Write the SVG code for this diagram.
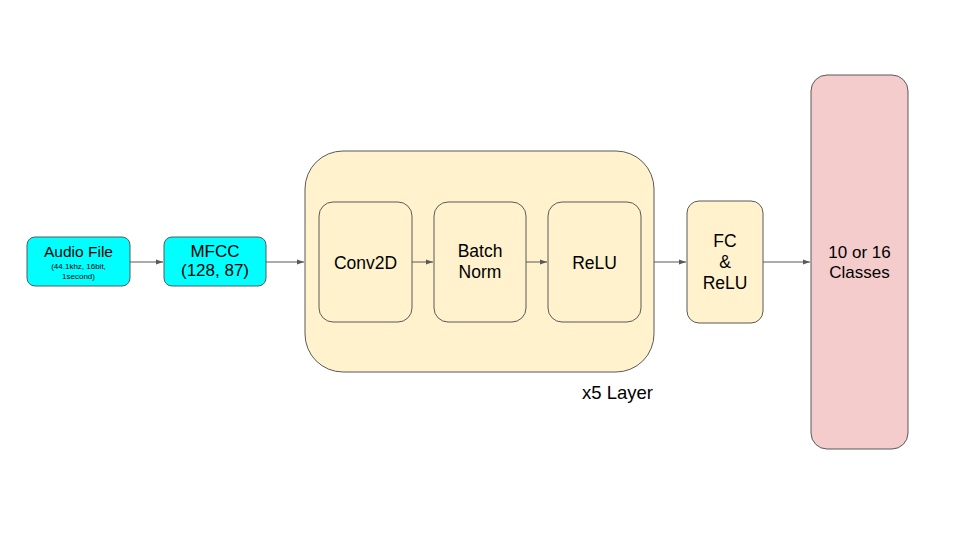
<svg xmlns="http://www.w3.org/2000/svg" width="960" height="540" viewBox="0 0 960 540">
<defs>
<marker id="ah" markerWidth="8" markerHeight="6" refX="7" refY="3" orient="auto" markerUnits="userSpaceOnUse">
<path d="M0,0.5 L7,3 L0,5.5 Z" fill="#595959"/>
</marker>
<style>
.box{stroke:#595959;stroke-width:1}
.cyan{fill:#00ffff}
.tan{fill:#fff2cc}
.pink{fill:#f4cccc}
text{font-family:"Liberation Sans",Arial,sans-serif;fill:#000;text-anchor:middle}
.c{fill:none;stroke:#595959;stroke-width:1;marker-end:url(#ah)}
</style>
</defs>
<rect width="960" height="540" fill="#fff"/>
<g id="audio">
<rect class="box cyan" x="27" y="237" width="103" height="49" rx="8"/>
<text x="78.5" y="257" font-size="15.5">Audio File</text>
<text x="78.5" y="269" font-size="8">(44.1khz, 16bit,</text>
<text x="78.5" y="279" font-size="8">1second)</text>
</g>
<g id="mfcc">
<rect class="box cyan" x="164" y="237" width="102" height="49" rx="8"/>
<text x="215" y="257" font-size="17">MFCC</text>
<text x="215" y="276" font-size="17">(128, 87)</text>
</g>
<g id="layer">
<rect class="box tan" x="305" y="151" width="349" height="221" rx="38"/>
<text x="653" y="399" font-size="18.5" style="text-anchor:end">x5 Layer</text>
</g>
<g id="conv">
<rect class="box tan" x="319" y="202" width="93" height="120" rx="14"/>
<text x="365.5" y="269" font-size="17.5">Conv2D</text>
</g>
<g id="bn">
<rect class="box tan" x="434" y="202" width="92" height="120" rx="14"/>
<text x="480" y="257" font-size="17.5">Batch</text>
<text x="480" y="278" font-size="17.5">Norm</text>
</g>
<g id="relu">
<rect class="box tan" x="548" y="202" width="93" height="120" rx="14"/>
<text x="594.5" y="269" font-size="17.5">ReLU</text>
</g>
<g id="fc">
<rect class="box tan" x="687" y="201" width="76" height="122" rx="12"/>
<text x="725" y="247" font-size="17.5">FC</text>
<text x="725" y="268" font-size="17.5">&amp;</text>
<text x="725" y="289" font-size="17.5">ReLU</text>
</g>
<g id="classes">
<rect class="box pink" x="811" y="75" width="97" height="374" rx="16"/>
<text x="859.5" y="258" font-size="17">10 or 16</text>
<text x="859.5" y="278" font-size="17">Classes</text>
</g>
<g id="connectors">
<line class="c" x1="130" y1="262" x2="163" y2="262"/>
<line class="c" x1="266" y1="262" x2="304" y2="262"/>
<line class="c" x1="412" y1="262" x2="433" y2="262"/>
<line class="c" x1="526" y1="262" x2="547" y2="262"/>
<line class="c" x1="654" y1="262" x2="686" y2="262"/>
<line class="c" x1="763" y1="262" x2="810" y2="262"/>
</g>
</svg>
